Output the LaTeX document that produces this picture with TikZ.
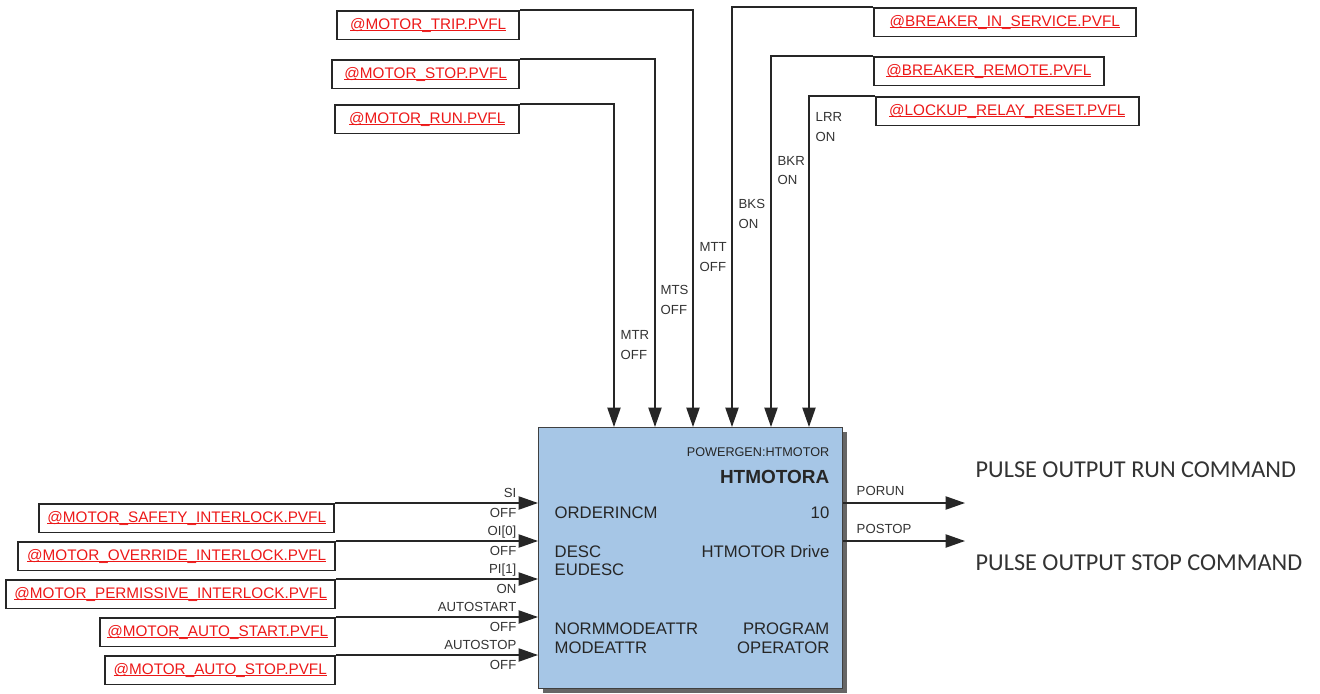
\documentclass[tikz,border=0pt]{standalone}
\usepackage{fontspec}
\setmainfont{Liberation Sans}
\newfontfamily\calibri{Carlito}
\usetikzlibrary{arrows.meta,positioning,shadows}
\definecolor{blkblue}{RGB}{166,198,230}
\definecolor{tagred}{RGB}{236,24,24}
\newcommand{\tagline}[1]{\setbox0\hbox{#1}\rlap{\rule[-1.05pt]{\wd0}{0.55pt}}\box0}

\begin{document}
\begin{tikzpicture}[->,>={Triangle[length=11pt,width=7.5pt]},line width=0.8pt,draw=black!85]
  \tikzstyle{every node}=[inner sep=0pt,text=black!80,font=\fontsize{7.5}{11.3}\selectfont]
  \tikzstyle{tag}=[draw=black!85,line width=0.9pt,minimum height=0.57cm,text=tagred,font=\fontsize{8.7}{10}\selectfont]
  \tikzstyle{blk}=[draw=black!75,fill=blkblue,minimum width=6.08cm,minimum height=5.22cm,
    drop shadow={shadow xshift=0.08cm,shadow yshift=-0.08cm,fill=black!60,opacity=1}]
  \tikzstyle{inner}=[text=black!85,font=\fontsize{9.5}{10.4}\selectfont]
  \useasboundingbox (0,0) rectangle (26.4,-13.88);

  % function block
  \node[blk,anchor=north west] (blk) at (10.76,-8.54) {};
  \node[inner,anchor=east,font=\fontsize{7.2}{8}\selectfont] (pgn) at (16.6,-9.04) {POWERGEN:HTMOTOR};
  \node[inner,anchor=east,font=\bfseries\fontsize{10.8}{12}\selectfont] (name) at (16.6,-9.54) {HTMOTORA};
  \node[inner,anchor=west] (ord) at (11.08,-10.26) {ORDERINCM};
  \node[inner,anchor=east] (ordv) at (16.6,-10.26) {10};
  \node[inner,anchor=west,align=left] (desc) at (11.08,-11.22) {DESC\\EUDESC};
  \node[inner,anchor=east] (descv) at (16.6,-11.04) {HTMOTOR Drive};
  \node[inner,anchor=west,align=left,font=\fontsize{9.5}{10.8}\selectfont] (mode) at (11.08,-12.77) {NORMMODEATTR\\MODEATTR};
  \node[inner,anchor=east,align=right,font=\fontsize{9.5}{10.8}\selectfont] (modev) at (16.6,-12.77) {PROGRAM\\OPERATOR};

  % top inputs
  \node[tag,minimum width=3.64cm,anchor=north east] (trip) at (10.4,-0.2) {\tagline{@MOTOR\_TRIP.PVFL}};
  \node[tag,minimum width=3.74cm,anchor=north east] (stop) at (10.4,-1.18) {\tagline{@MOTOR\_STOP.PVFL}};
  \node[tag,minimum width=3.68cm,anchor=north east] (run) at (10.4,-2.08) {\tagline{@MOTOR\_RUN.PVFL}};
  \node[tag,minimum width=5.24cm,anchor=north west] (bis) at (17.46,-0.14) {\tagline{@BREAKER\_IN\_SERVICE.PVFL}};
  \node[tag,minimum width=4.6cm,anchor=north west] (brm) at (17.46,-1.12) {\tagline{@BREAKER\_REMOTE.PVFL}};
  \node[tag,minimum width=5.26cm,anchor=north west] (lrr) at (17.5,-1.92) {\tagline{@LOCKUP\_RELAY\_RESET.PVFL}};

  \draw (run.north east) -| ([xshift=1.52cm]blk.north west);
  \draw (stop.north east) -| ([xshift=2.34cm]blk.north west);
  \draw (trip.north east) -| ([xshift=3.10cm]blk.north west);
  \draw (bis.north west) -| ([xshift=3.88cm]blk.north west);
  \draw (brm.north west) -| ([xshift=4.66cm]blk.north west);
  \draw (lrr.north west) -| ([xshift=5.42cm]blk.north west);

  \node[anchor=west,align=left] (smtr) at (12.4,-6.9) {MTR\\OFF};
  \node[anchor=west,align=left] (smts) at (13.2,-6.0) {MTS\\OFF};
  \node[anchor=west,align=left] (smtt) at (13.98,-5.14) {MTT\\OFF};
  \node[anchor=west,align=left] (sbks) at (14.76,-4.28) {BKS\\ON};
  \node[anchor=west,align=left] (sbkr) at (15.54,-3.41) {BKR\\ON};
  \node[anchor=west,align=left] (slrr) at (16.3,-2.54) {LRR\\ON};

  % left inputs
  \node[tag,minimum width=5.9cm,anchor=north east] (sfi) at (6.7,-10.06) {\tagline{@MOTOR\_SAFETY\_INTERLOCK.PVFL}};
  \node[tag,minimum width=6.34cm,anchor=north east] (ovi) at (6.72,-10.82) {\tagline{@MOTOR\_OVERRIDE\_INTERLOCK.PVFL}};
  \node[tag,minimum width=6.58cm,anchor=north east] (pmi) at (6.72,-11.58) {\tagline{@MOTOR\_PERMISSIVE\_INTERLOCK.PVFL}};
  \node[tag,minimum width=4.7cm,anchor=north east] (ast) at (6.72,-12.34) {\tagline{@MOTOR\_AUTO\_START.PVFL}};
  \node[tag,minimum width=4.6cm,anchor=north east] (asp) at (6.72,-13.1) {\tagline{@MOTOR\_AUTO\_STOP.PVFL}};

  \draw (sfi.north east) -- (sfi.north east -| blk.west);
  \draw (ovi.north east) -- (ovi.north east -| blk.west);
  \draw (pmi.north east) -- (pmi.north east -| blk.west);
  \draw (ast.north east) -- (ast.north east -| blk.west);
  \draw (asp.north east) -- (asp.north east -| blk.west);

  \node[anchor=east,align=right] (ssi) at (10.34,-10.06) {SI\\OFF};
  \node[anchor=east,align=right] (soi) at (10.34,-10.82) {OI[0]\\OFF};
  \node[anchor=east,align=right] (spi) at (10.34,-11.58) {PI[1]\\ON};
  \node[anchor=east,align=right] (sast) at (10.34,-12.34) {AUTOSTART\\OFF};
  \node[anchor=east,align=right] (sasp) at (10.34,-13.1) {AUTOSTOP\\OFF};

  % outputs
  \coordinate (porun) at (19.3,-10.06);
  \coordinate (postop) at (19.3,-10.82);
  \draw (blk.east |- porun) -- (porun);
  \draw (blk.east |- postop) -- (postop);
  \node[anchor=west] (sporun) at (17.12,-9.82) {PORUN};
  \node[anchor=west] (spostop) at (17.12,-10.58) {POSTOP};
  \node[anchor=west,font=\calibri\fontsize{13.8}{16}\selectfont] (runcmd) at (19.5,-9.4) {PULSE OUTPUT RUN COMMAND};
  \node[anchor=west,font=\calibri\fontsize{13.8}{16}\selectfont] (stopcmd) at (19.5,-11.26) {PULSE OUTPUT STOP COMMAND};
\end{tikzpicture}
\end{document}
